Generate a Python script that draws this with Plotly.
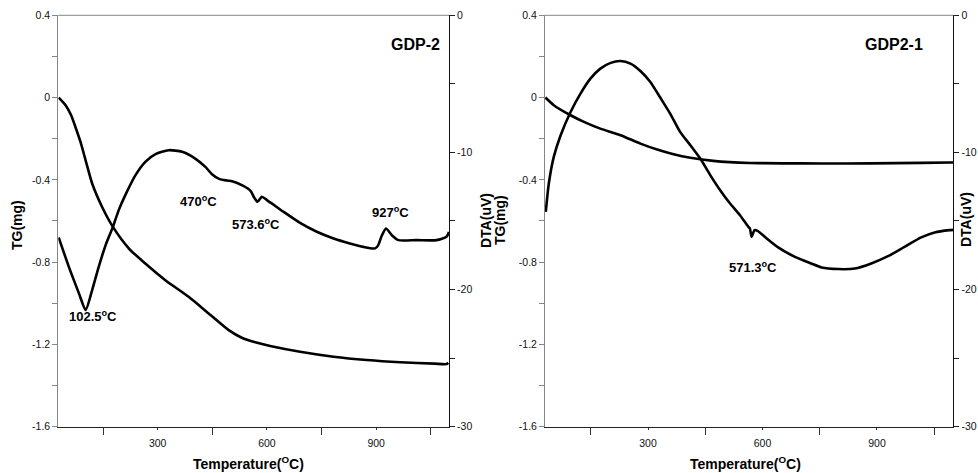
import plotly.graph_objects as go

W, H = 978, 473

# ---- GDP-2: thermogravimetric (mg) and differential thermal (uV) curves ----
gdp2_tg_temp = [28, 47, 62, 74, 88, 102, 120, 147, 177, 221, 266, 321, 385, 440,
                495, 531, 568, 609, 691, 783, 874, 966, 1060, 1093, 1098]
gdp2_tg_mass = [0.0, -0.037, -0.085, -0.143, -0.216, -0.305, -0.418, -0.531, -0.629,
                -0.734, -0.807, -0.888, -0.969, -1.05, -1.131, -1.168, -1.19, -1.208,
                -1.236, -1.26, -1.276, -1.287, -1.294, -1.296, -1.29]

gdp2_dta_temp = [28, 56, 84, 102, 120, 138, 157, 177, 193, 211, 239, 266, 294, 330,
                 367, 403, 431, 449, 470, 490, 504, 531, 555, 565, 574, 586, 600, 646,
                 691, 737, 783, 828, 865, 897, 905, 915, 927, 943, 961, 1011, 1066,
                 1093, 1100]
gdp2_dta_uv = [-16.2, -18.35, -20.3, -21.5, -20.04, -18.35, -16.76, -15.43, -14.21,
               -13.12, -11.66, -10.69, -10.13, -9.84, -9.96, -10.45, -11.06, -11.59,
               -11.95, -12.05, -12.1, -12.39, -12.8, -13.3, -13.6, -13.24, -13.48,
               -14.34, -15.14, -15.79, -16.28, -16.64, -16.89, -17.0, -16.8, -16.1,
               -15.55, -16.04, -16.4, -16.4, -16.4, -16.16, -15.8]

# ---- GDP2-1 ----
gdp21_tg_temp = [31, 53, 97, 132, 175, 228, 280, 324, 367, 411, 471, 567, 700, 816,
                 950, 1090, 1100]
gdp21_tg_mass = [0.0, -0.037, -0.086, -0.118, -0.151, -0.183, -0.224, -0.253, -0.276,
                 -0.293, -0.308, -0.318, -0.32, -0.321, -0.319, -0.316, -0.316]

gdp21_dta_temp = [32, 40, 53, 71, 97, 123, 149, 175, 202, 228, 254, 280, 306, 332,
                  358, 384, 411, 437, 463, 489, 515, 541, 563, 567, 571.5, 579, 587,
                  606, 641, 685, 728, 755, 798, 842, 885, 929, 972, 1016, 1051, 1090,
                  1100]
gdp21_dta_uv = [-14.34, -12.27, -10.33, -8.75, -7.05, -5.71, -4.62, -3.89, -3.47,
                -3.33, -3.52, -4.06, -4.86, -6.0, -7.17, -8.5, -9.48, -10.45, -11.66,
                -12.76, -13.73, -14.58, -15.43, -15.55, -16.16, -15.67, -15.72, -16.16,
                -16.93, -17.62, -18.1, -18.39, -18.51, -18.47, -18.1, -17.57, -16.89,
                -16.2, -15.84, -15.67, -15.65]

# ---- axis ticks ----
tg_tickvals = [0.4, 0, -0.4, -0.8, -1.2, -1.6]
tg_ticktext = ["0.4", "0", "-0.4", "-0.8", "-1.2", "-1.6"]
dta_tickvals = [0, -10, -20, -30]
dta_ticktext = ["0", "-10", "-20", "-30"]
temp_tickvals = [300, 600, 900]
temp_ticktext = ["300", "600", "900"]

FONT = "Liberation Sans, Arial, sans-serif"
GRAY = "#868686"


def px_x(px):
    return px / W


def px_y(py):
    return 1 - py / H


left_dom = [px_x(58.3), px_x(449)]
right_dom = [px_x(545), px_x(953.3)]
y_dom = [px_y(426.6), px_y(15.3)]

line = dict(color="black", width=2.6, shape="spline", smoothing=0.6)

fig = go.Figure()
fig.add_trace(go.Scatter(x=gdp2_tg_temp, y=gdp2_tg_mass, xaxis="x", yaxis="y",
                         mode="lines", line=line, name="TG"))
fig.add_trace(go.Scatter(x=gdp2_dta_temp, y=gdp2_dta_uv, xaxis="x", yaxis="y2",
                         mode="lines", line=line, name="DTA"))
fig.add_trace(go.Scatter(x=gdp21_tg_temp, y=gdp21_tg_mass, xaxis="x2", yaxis="y3",
                         mode="lines", line=line, name="TG"))
fig.add_trace(go.Scatter(x=gdp21_dta_temp, y=gdp21_dta_uv, xaxis="x2", yaxis="y4",
                         mode="lines", line=line, name="DTA"))

tickfont = dict(family=FONT, size=10.5, color="#111")


def temp_axis(domain, rng, anchor):
    return dict(domain=domain, range=rng, anchor=anchor, tickmode="array",
                tickvals=temp_tickvals, ticktext=temp_ticktext, ticks="outside",
                ticklen=2, tickcolor="#333", ticklabelstandoff=5,
                minor=dict(tick0=150, dtick=300, ticks="outside", ticklen=7,
                           tickcolor="#333"),
                showline=True, linecolor="#222", linewidth=1, showgrid=False,
                zeroline=False, tickfont=tickfont, automargin=False, fixedrange=True)


def tg_axis(anchor):
    return dict(domain=y_dom, range=[-1.6, 0.4], anchor=anchor, tickmode="array",
                tickvals=tg_tickvals, ticktext=tg_ticktext, ticks="outside",
                ticklen=5, tickcolor=GRAY,
                minor=dict(tick0=0, dtick=0.2, ticks="outside", ticklen=5,
                           tickcolor=GRAY),
                showline=True, linecolor=GRAY, linewidth=1, showgrid=False,
                zeroline=False, tickfont=tickfont, automargin=False, fixedrange=True)


def dta_axis(anchor, overlay):
    return dict(domain=y_dom, range=[-30, 0], anchor=anchor, overlaying=overlay,
                side="right", tickmode="array", tickvals=dta_tickvals,
                ticktext=dta_ticktext, ticks="outside", ticklen=5, tickcolor="#222",
                minor=dict(tick0=0, dtick=5, ticks="outside", ticklen=5,
                           tickcolor="#222"),
                showline=True, linecolor="#111", linewidth=1, showgrid=False,
                zeroline=False, tickfont=tickfont, automargin=False, fixedrange=True)


bold = dict(family=FONT, size=14, color="black")


def note(text, px, py, size=13, angle=0):
    return dict(text=text, x=px_x(px), y=px_y(py), xref="paper", yref="paper",
                showarrow=False, textangle=angle, xanchor="center", yanchor="middle",
                font=dict(family=FONT, size=size, color="black"))


annotations = [
    note("<b>102.5<sup>o</sup>C</b>", 93, 316),
    note("<b>470<sup>o</sup>C</b>", 198, 201),
    note("<b>573.6<sup>o</sup>C</b>", 256, 224),
    note("<b>927<sup>o</sup>C</b>", 390, 212),
    note("<b>GDP-2</b>", 415, 45, size=16),
    note("<b>571.3<sup>o</sup>C</b>", 753, 267),
    note("<b>GDP2-1</b>", 894, 45, size=16),
    note("<b>TG(mg)</b>", 17, 225, size=14, angle=-90),
    note("<b>DTA(uV)</b>", 486, 221, size=14, angle=-90),
    note("<b>TG(mg)</b>", 500, 220, size=14, angle=-90),
    note("<b>DTA(uV)</b>", 966, 220, size=14, angle=-90),
    note("<b>Temperature(<sup>O</sup>C)</b>", 249, 463, size=14),
    note("<b>Temperature(<sup>O</sup>C)</b>", 745, 463, size=14),
]

shapes = [
    dict(type="line", xref="paper", yref="paper", x0=left_dom[0], x1=left_dom[1],
         y0=y_dom[1], y1=y_dom[1], line=dict(color=GRAY, width=1)),
    dict(type="line", xref="paper", yref="paper", x0=right_dom[0], x1=right_dom[1],
         y0=y_dom[1], y1=y_dom[1], line=dict(color=GRAY, width=1)),
]

fig.update_layout(
    template="none",
    width=W, height=H,
    margin=dict(l=0, r=0, t=0, b=0),
    paper_bgcolor="white", plot_bgcolor="white",
    showlegend=False,
    xaxis=temp_axis(left_dom, [27, 1100], "y"),
    yaxis=tg_axis("x"),
    yaxis2=dta_axis("x", "y"),
    xaxis2=temp_axis(right_dom, [30, 1100], "y3"),
    yaxis3=tg_axis("x2"),
    yaxis4=dta_axis("x2", "y3"),
    annotations=annotations,
    shapes=shapes,
)

fig.write_html("out.html")
